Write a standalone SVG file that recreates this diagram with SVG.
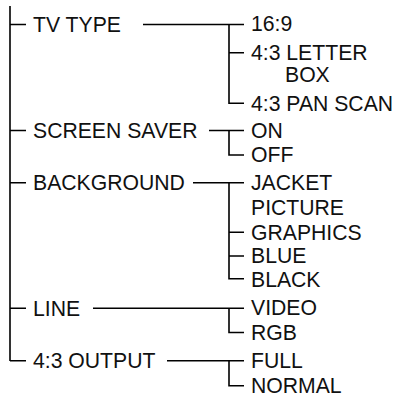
<svg xmlns="http://www.w3.org/2000/svg" width="395" height="395" viewBox="0 0 395 395">
<style>
text{font-family:"Liberation Sans",Arial,sans-serif;font-size:21.2px;fill:#111}
.c path{fill:none;stroke:#000;stroke-width:1.6}
</style>
<rect width="395" height="395" fill="#fff"/>
<g class="c" id="connectors">
<path d="M10,6V361M10,24.5H26M10,130.5H26M10,182.7H26M10,308.3H26M10,360.7H26"/>
<path d="M143,24.5H244M229,24.5V103.3H244M229,52.7H244"/>
<path d="M209,130.5H244M229,130.5V155H244"/>
<path d="M193,182.7H244M229,182.7V278.7H244M229,232.3H244M229,256H244"/>
<path d="M93,308.3H244M229,308.3V332.5H244"/>
<path d="M167,360.7H244M229,360.7V385.7H244"/>
</g>
<g id="tv-type"><text x="33" y="32">TV TYPE</text></g>
<g id="opt-16-9"><text x="251" y="31">16:9</text></g>
<g id="opt-letterbox"><text x="251" y="60">4:3 LETTER</text><text x="285" y="82">BOX</text></g>
<g id="opt-panscan"><text x="251" y="110.5">4:3 PAN SCAN</text></g>
<g id="screen-saver"><text x="33" y="137.7">SCREEN SAVER</text></g>
<g id="opt-on"><text x="251" y="137.5">ON</text></g>
<g id="opt-off"><text x="251" y="162.3">OFF</text></g>
<g id="background"><text x="33" y="190">BACKGROUND</text></g>
<g id="opt-jacket"><text x="251" y="190">JACKET</text><text x="251" y="215">PICTURE</text></g>
<g id="opt-graphics"><text x="251" y="239.5">GRAPHICS</text></g>
<g id="opt-blue"><text x="251" y="263.3">BLUE</text></g>
<g id="opt-black"><text x="251" y="286.5">BLACK</text></g>
<g id="line"><text x="33" y="315.5">LINE</text></g>
<g id="opt-video"><text x="251" y="315">VIDEO</text></g>
<g id="opt-rgb"><text x="251" y="340">RGB</text></g>
<g id="output"><text x="33" y="367.7">4:3 OUTPUT</text></g>
<g id="opt-full"><text x="251" y="367.5">FULL</text></g>
<g id="opt-normal"><text x="251" y="392.5">NORMAL</text></g>
</svg>
